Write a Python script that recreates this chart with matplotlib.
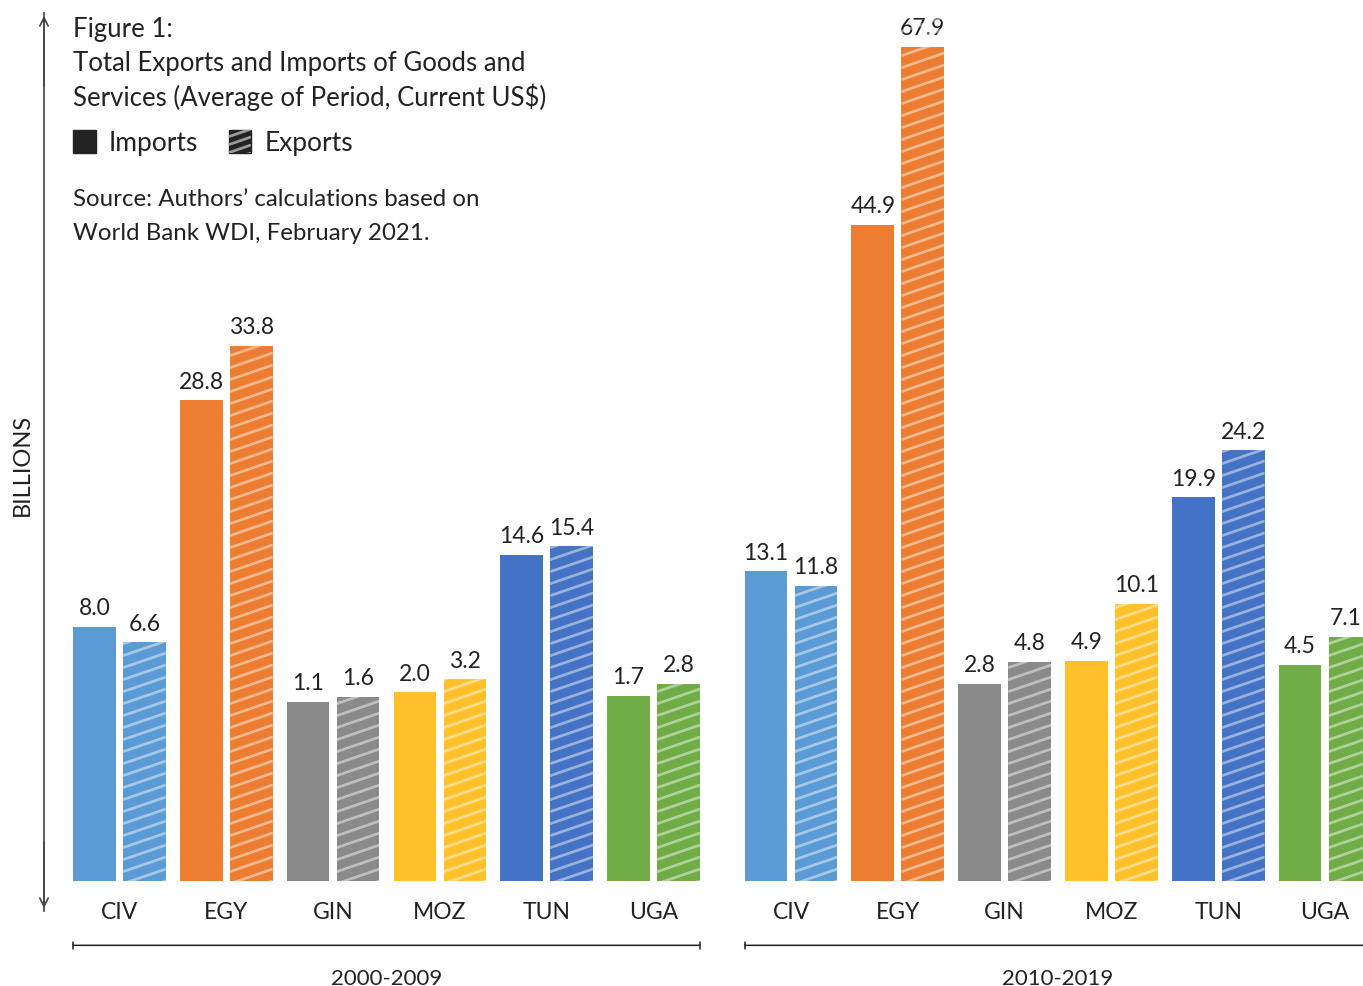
import numpy as np
import matplotlib
matplotlib.use("Agg")
import matplotlib.pyplot as plt
from matplotlib.patches import Rectangle
from matplotlib.collections import LineCollection
from matplotlib.transforms import IdentityTransform

plt.rcParams['font.family'] = ['Lato', 'DejaVu Sans']

"""DATA"""
countries = ['CIV', 'EGY', 'GIN', 'MOZ', 'TUN', 'UGA']
periods = ['2000-2009', '2010-2019']
imports_2000 = [8.0, 28.8, 1.1, 2.0, 14.6, 1.7]
exports_2000 = [6.6, 33.8, 1.6, 3.2, 15.4, 2.8]
imports_2010 = [13.1, 44.9, 2.8, 4.9, 19.9, 4.5]
exports_2010 = [11.8, 67.9, 4.8, 10.1, 24.2, 7.1]
colors = ['#5B9BD5', '#ED7D31', '#8A8A8A', '#FFC02A', '#4472C4', '#70AD47']

title_lines = ['Figure 1:', 'Total Exports and Imports of Goods and',
               'Services (Average of Period, Current US$)']
source_lines = ['Source: Authors\u2019 calculations based on',
                'World Bank WDI, February 2021.']

TXT = '#222222'
BASE = -15.3      # value at the bottom of the bars
YTOP = 61.2       # axis top, the tallest bar runs past it
GAP = 1.2875      # extra space between the two periods
OFF = 0.234
W = 0.4
XMAX = 11.643

fig = plt.figure(figsize=(13.63, 9.87), dpi=100)
ax = fig.add_axes([73 / 1363, 105 / 987, 1 - 73 / 1363, 834 / 987])
ax.set_xlim(-0.435, XMAX)
ax.set_ylim(BASE, YTOP)
ax.axis('off')


def px(x, y):
    return x / 1363, 1 - y / 987


def hatch_bar(rect, color, spacing=12, angle=19, lw=2.0):
    # shallow diagonal lines clipped to the bar
    (x0, y0), (x1, y1) = rect.get_data_transform().transform(
        [[rect.get_x(), rect.get_y()],
         [rect.get_x() + rect.get_width(), rect.get_y() + rect.get_height()]])
    rise = np.tan(np.radians(angle)) * (x1 - x0)
    segs = []
    c = y0 - rise
    while c < y1 + spacing:
        segs.append([(x0, c), (x1, c + rise)])
        c += spacing
    lc = LineCollection(segs, colors=[color], linewidths=lw, transform=IdentityTransform(),
                        zorder=5)
    fig.add_artist(lc)
    lc.set_clip_path(rect)


groups = [(0.0, imports_2000, exports_2000), (5 + GAP, imports_2010, exports_2010)]
for start, imp, exp in groups:
    x = start + np.arange(len(countries))
    imp = np.array(imp)
    exp = np.array(exp)
    ax.bar(x - OFF, imp - BASE, W, bottom=BASE, color=colors)
    b2 = ax.bar(x + OFF, exp - BASE, W, bottom=BASE, color=colors)
    for r in b2:
        hatch_bar(r, (1, 1, 1, 0.45))
    for xi, v in zip(np.r_[x - OFF, x + OFF], np.r_[imp, exp]):
        ax.text(min(xi, XMAX - 0.16), min(v, YTOP) + 0.8, f'{v:.1f}', ha='center',
                va='bottom', fontsize=16.5, color=TXT, clip_on=False)
    for xi, c in zip(x, countries):
        ax.text(xi, BASE - 1.85, c, ha='center', va='top', fontsize=16.5, color=TXT)

# period brackets
for start, p in zip([0.0, 5 + GAP], periods):
    x0, x1 = start - 0.435, start + 5 + 0.435
    ax.annotate('', xy=(x0, BASE - 5.9), xytext=(x1, BASE - 5.9),
                xycoords='data', annotation_clip=False,
                arrowprops=dict(arrowstyle='|-|,widthA=0.25,widthB=0.25', color=TXT, lw=1.1,
                                shrinkA=0, shrinkB=0))
    ax.text(start + 2.5, BASE - 8.0, p, ha='center', va='top', fontsize=16, color=TXT)

# y-axis double arrow
ax_arrow = dict(arrowstyle='->,head_length=0.6,head_width=0.3', color='#444444', lw=1.2)
fig.add_artist(plt.Line2D([44 / 1363, 44 / 1363], [75 / 987, 973 / 987], color='#444444', lw=1.2))
plt.annotate('', xy=px(44, 14), xytext=px(44, 90),
             xycoords='figure fraction', arrowprops=ax_arrow)
plt.annotate('', xy=px(44, 912), xytext=px(44, 840),
             xycoords='figure fraction', arrowprops=ax_arrow)
fig.text(*px(22, 465), 'BILLIONS', rotation=90, ha='center', va='center',
         fontsize=17, color=TXT)

# title block
for yy, line in zip([29, 63, 97], title_lines):
    fig.text(*px(73, yy), line, ha='left', va='center', fontsize=18.5, color=TXT)

# legend
sq1 = Rectangle(px(73, 154), 23 / 1363, 23 / 987, transform=fig.transFigure, color='#222222')
sq2 = Rectangle(px(229, 154), 22 / 1363, 23 / 987, transform=fig.transFigure, color='#222222')
fig.add_artist(sq1)
fig.add_artist(sq2)
hatch_bar(sq2, '#9a9a9a', spacing=8, angle=19, lw=2.0)
fig.text(*px(109, 144), 'Imports', ha='left', va='center', fontsize=19, color=TXT)
fig.text(*px(265, 144), 'Exports', ha='left', va='center', fontsize=19, color=TXT)

for yy, line in zip([199, 233], source_lines):
    fig.text(*px(73, yy), line, ha='left', va='center', fontsize=17.3, color=TXT)

fig.savefig('out.png', dpi=100)
